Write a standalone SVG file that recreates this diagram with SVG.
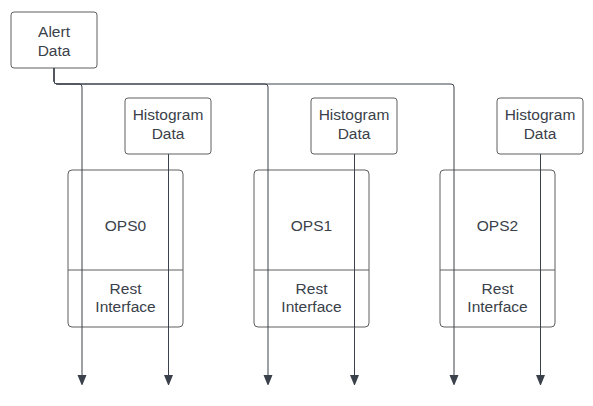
<svg xmlns="http://www.w3.org/2000/svg" width="593" height="406" viewBox="0 0 593 406">
<style>
.box{fill:#fff;stroke:#5e5e5e;stroke-width:1}
.t{font-family:"Liberation Sans",Arial,sans-serif;font-size:15.5px;fill:#3a414a;text-anchor:middle}
.c{fill:none;stroke:#3a414a;stroke-width:1}
</style>
<defs>
<marker id="a" markerWidth="10" markerHeight="12" refX="9" refY="4.5" orient="auto" markerUnits="userSpaceOnUse">
<path d="M0,0 L11,4.5 L0,9 z" fill="#3a414a"/>
</marker>
</defs>
<rect width="593" height="406" fill="#fff"/>
<g id="alert"><rect class="box" x="11" y="12" width="86" height="56" rx="3"/><text class="t" x="54" y="37">Alert</text><text class="t" x="54" y="56">Data</text></g>
<g id="ops0"><rect class="box" x="68" y="170" width="115" height="157" rx="4"/><line class="box" x1="68" y1="270" x2="183" y2="270"/><text class="t" x="125.5" y="231">OPS0</text><text class="t" x="125.5" y="294">Rest</text><text class="t" x="125.5" y="312">Interface</text></g>
<g id="ops1"><rect class="box" x="254" y="170" width="115" height="157" rx="4"/><line class="box" x1="254" y1="270" x2="369" y2="270"/><text class="t" x="311.5" y="231">OPS1</text><text class="t" x="311.5" y="294">Rest</text><text class="t" x="311.5" y="312">Interface</text></g>
<g id="ops2"><rect class="box" x="440" y="170" width="115" height="157" rx="4"/><line class="box" x1="440" y1="270" x2="555" y2="270"/><text class="t" x="497.5" y="231">OPS2</text><text class="t" x="497.5" y="294">Rest</text><text class="t" x="497.5" y="312">Interface</text></g>
<g id="hist0"><rect class="box" x="125" y="98" width="86" height="56" rx="3"/><text class="t" x="168" y="120">Histogram</text><text class="t" x="168" y="139">Data</text></g>
<g id="hist1"><rect class="box" x="311" y="98" width="86" height="56" rx="3"/><text class="t" x="354" y="120">Histogram</text><text class="t" x="354" y="139">Data</text></g>
<g id="hist2"><rect class="box" x="497" y="98" width="86" height="56" rx="3"/><text class="t" x="540" y="120">Histogram</text><text class="t" x="540" y="139">Data</text></g>
<g id="connectors">
<path class="c" d="M54,68 V81 Q54,84 57,84 H79 Q82,84 82,87 V384" marker-end="url(#a)"/>
<path class="c" d="M54,68 V81 Q54,84 57,84 H265 Q268,84 268,87 V384" marker-end="url(#a)"/>
<path class="c" d="M54,68 V81 Q54,84 57,84 H451 Q454,84 454,87 V384" marker-end="url(#a)"/>
<path class="c" d="M168.5,154 V384" marker-end="url(#a)"/>
<path class="c" d="M354.5,154 V384" marker-end="url(#a)"/>
<path class="c" d="M540.5,154 V384" marker-end="url(#a)"/>
</g>
</svg>
